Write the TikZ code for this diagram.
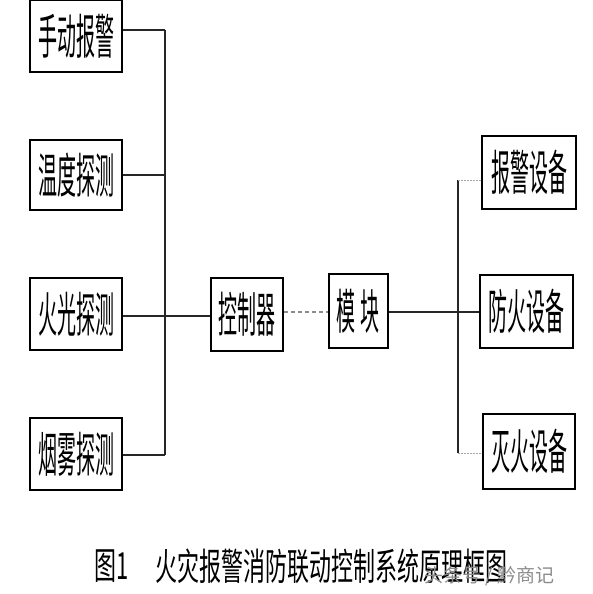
\documentclass[tikz,border=0pt]{standalone}
\usepackage{fontspec}
\newfontfamily\cjk{Noto Sans CJK SC}
\newcommand{\boxtxt}[1]{\scalebox{0.95}[2.4]{\cjk\fontsize{20}{20}\selectfont #1}}
\begin{document}
\begin{tikzpicture}[x=1pt,y=-1pt,
  box/.style={draw=black,line width=2pt,fill=white,inner sep=0pt},
  conn/.style={line width=2.2pt,draw=black!85},
  thin/.style={line width=1.3pt,draw=black!85},
  stub/.style={line width=1pt,draw=black!35,dash pattern=on 2pt off 1pt}]
\useasboundingbox (0,0) rectangle (592,594);
\fill[white] (0,0) rectangle (592,594);
% left boxes
\node[box,minimum width=92pt,minimum height=72pt] (a1) at (76,36) {\boxtxt{手动报警}};
\node[box,minimum width=92pt,minimum height=70pt] (a2) at (76,175) {\boxtxt{温度探测}};
\node[box,minimum width=92pt,minimum height=72pt] (a3) at (76,314) {\boxtxt{火光探测}};
\node[box,minimum width=92pt,minimum height=72pt] (a4) at (76,454) {\boxtxt{烟雾探测}};
% controller & module
\node[box,minimum width=72pt,minimum height=73pt] (c) at (247,314) {\boxtxt{控制器}};
\node[box,minimum width=59pt,minimum height=74pt] (m) at (358,311) {\boxtxt{模\hspace{5pt}块}};
% right boxes
\node[box,minimum width=94pt,minimum height=73pt] (r1) at (529,172) {\boxtxt{报警设备}};
\node[box,minimum width=93pt,minimum height=73pt] (r2) at (526,311) {\boxtxt{防火设备}};
\node[box,minimum width=92pt,minimum height=75pt] (r3) at (529,451) {\boxtxt{灭火设备}};
% bus coordinates
\coordinate (b1) at (165,30);
\coordinate (b2) at (165,175);
\coordinate (b3) at (165,316);
\coordinate (b4) at (165,455);
\coordinate (q1) at (458,180);
\coordinate (q2) at (458,312);
\coordinate (q3) at (458,453);
% left connectors
\draw[conn] (a1.east |- b1) -- (b1);
\draw[conn] (a2.east |- b2) -- (b2);
\draw[conn] (a3.east |- b3) -- (c.west |- b3);
\draw[conn] (a4.east |- b4) -- (b4);
\draw[thin] (b1) -- (b4);
% middle
\draw[line width=1.2pt,draw=black!45,dash pattern=on 4pt off 3pt] (c.east |- q2) -- (m.west |- q2);
\draw[conn] (m.east |- q2) -- (r2.west |- q2);
\draw[thin] (q1) -- (q3);
\draw[stub] (q1) -- (r1.west |- q1);
\draw[stub] (q3) -- (r3.west |- q3);
% caption
\node[anchor=west,inner sep=0pt] (cap1) at (94,566) {\scalebox{1}[1.7]{\cjk\fontsize{22}{22}\selectfont 图1}};
\node[anchor=west,inner sep=0pt] (cap2) at (155,566) {\scalebox{1}[1.7]{\cjk\fontsize{22}{22}\selectfont 火灾报警消防联动控制系统原理框图}};
\node[anchor=west,inner sep=0pt,text=black!45] (wm) at (424,576) {\cjk\fontsize{19}{19}\selectfont 头条号 / 黔商记};
\end{tikzpicture}
\end{document}
